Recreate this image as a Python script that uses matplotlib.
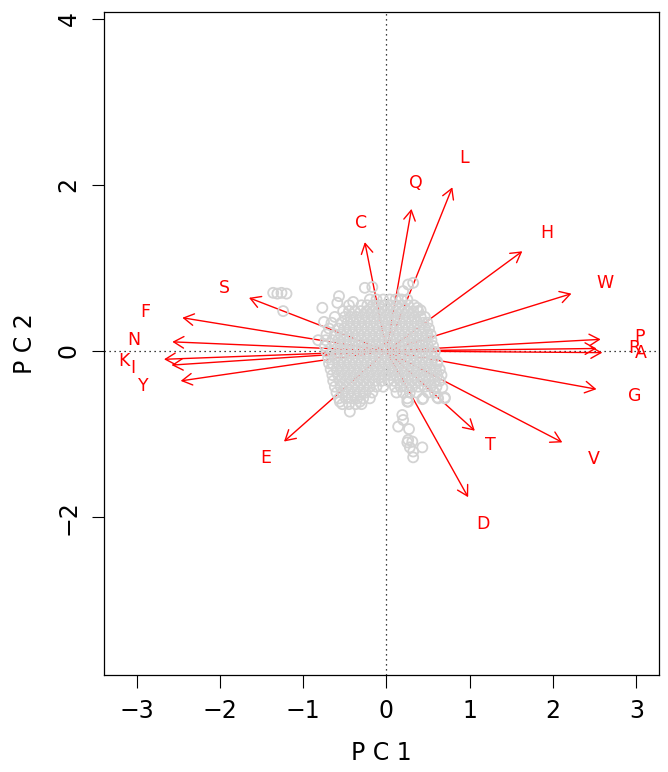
import matplotlib
matplotlib.use('Agg')
import matplotlib.pyplot as plt
from matplotlib.patches import FancyArrowPatch

# --- DATA ---
# amino-acid loadings (arrow tips, PC1 / PC2)
aa_labels = ['A', 'C', 'D', 'E', 'F', 'G', 'H', 'I', 'K', 'L',
             'N', 'P', 'Q', 'R', 'S', 'T', 'V', 'W', 'Y']
aa_pc1 = [2.59, -0.26, 0.98, -1.23, -2.45, 2.52, 1.63, -2.58, -2.67, 0.79,
          -2.57, 2.57, 0.30, 2.52, -1.65, 1.06, 2.11, 2.22, -2.47]
aa_pc2 = [-0.02, 1.31, -1.76, -1.09, 0.40, -0.46, 1.20, -0.17, -0.10, 1.97,
          0.11, 0.14, 1.71, 0.03, 0.64, -0.96, -1.10, 0.69, -0.36]

# sample scores, read row by row from the dense cloud (PC2 value, PC1 values)
cloud_rows = [
    (0.62, [-0.20, -0.12, -0.04, 0.04, 0.11, 0.18, 0.25]),
    (0.55, [-0.45, -0.30, -0.23, -0.16, -0.09, -0.02, 0.05, 0.12, 0.19, 0.26, 0.33]),
    (0.48, [-0.52, -0.45, -0.38, -0.31, -0.24, -0.17, -0.10, -0.03, 0.04, 0.11, 0.18, 0.25, 0.32, 0.38]),
    (0.41, [-0.62, -0.50, -0.43, -0.36, -0.29, -0.22, -0.15, -0.08, -0.01, 0.06, 0.13, 0.20, 0.27, 0.34, 0.41, 0.46]),
    (0.34, [-0.66, -0.54, -0.47, -0.40, -0.33, -0.26, -0.19, -0.12, -0.05, 0.02, 0.09, 0.16, 0.23, 0.30, 0.37, 0.44, 0.49]),
    (0.27, [-0.69, -0.58, -0.51, -0.44, -0.37, -0.30, -0.23, -0.16, -0.09, -0.02, 0.05, 0.12, 0.19, 0.26, 0.33, 0.40, 0.46, 0.51]),
    (0.20, [-0.72, -0.62, -0.55, -0.48, -0.41, -0.34, -0.27, -0.20, -0.13, -0.06, 0.01, 0.08, 0.15, 0.22, 0.29, 0.36, 0.43, 0.49, 0.53]),
    (0.13, [-0.73, -0.65, -0.58, -0.51, -0.44, -0.37, -0.30, -0.23, -0.16, -0.09, -0.02, 0.05, 0.12, 0.19, 0.26, 0.33, 0.40, 0.47, 0.54]),
    (0.06, [-0.74, -0.62, -0.55, -0.48, -0.41, -0.34, -0.27, -0.20, -0.13, -0.06, 0.01, 0.08, 0.15, 0.22, 0.29, 0.36, 0.43, 0.50, 0.56]),
    (-0.01, [-0.72, -0.65, -0.58, -0.51, -0.44, -0.37, -0.30, -0.23, -0.16, -0.09, -0.02, 0.05, 0.12, 0.19, 0.26, 0.33, 0.40, 0.47, 0.54, 0.58]),
    (-0.08, [-0.70, -0.62, -0.55, -0.48, -0.41, -0.34, -0.27, -0.20, -0.13, -0.06, 0.01, 0.08, 0.15, 0.22, 0.29, 0.36, 0.43, 0.50, 0.57]),
    (-0.15, [-0.69, -0.65, -0.58, -0.51, -0.44, -0.37, -0.30, -0.23, -0.16, -0.09, -0.02, 0.05, 0.12, 0.19, 0.26, 0.33, 0.40, 0.47, 0.54, 0.61]),
    (-0.22, [-0.67, -0.60, -0.53, -0.46, -0.39, -0.32, -0.25, -0.18, -0.11, -0.04, 0.03, 0.10, 0.17, 0.24, 0.31, 0.38, 0.45, 0.52, 0.59, 0.64]),
    (-0.29, [-0.65, -0.58, -0.51, -0.44, -0.37, -0.30, -0.23, -0.16, -0.09, -0.02, 0.05, 0.12, 0.19, 0.26, 0.33, 0.40, 0.47, 0.54, 0.61, 0.66]),
    (-0.36, [-0.64, -0.56, -0.49, -0.42, -0.35, -0.28, -0.21, -0.14, -0.06, 0.02, 0.09, 0.16, 0.23, 0.30, 0.37, 0.44, 0.51, 0.58, 0.64]),
    (-0.43, [-0.62, -0.55, -0.48, -0.41, -0.34, -0.27, -0.20, -0.12, -0.04, 0.10, 0.17, 0.24, 0.31, 0.38, 0.46, 0.53, 0.60]),
    (-0.50, [-0.60, -0.53, -0.46, -0.39, -0.32, -0.25, -0.17, 0.12, 0.20, 0.28, 0.36, 0.50, 0.58]),
    (-0.57, [-0.57, -0.49, -0.42, -0.35, -0.28, -0.20, 0.25, 0.44, 0.62, 0.70]),
    (-0.64, [-0.53, -0.45, -0.37, -0.30]),
]

# scattered scores outside the core
extra_pc1 = [-1.36, -1.31, -1.26, -1.20, -1.24, -0.77, -0.59, -0.57, -0.40, -0.75,
             -0.82, -0.26, -0.17, 0.20, 0.26, 0.32, 0.37, 0.41, 0.61, 0.67,
             -0.44, -0.56, -0.32, 0.25, 0.43, 0.61, 0.70,
             0.26, 0.19, 0.20, 0.14, 0.27, 0.26, 0.31, 0.25, 0.28, 0.32, 0.43, 0.32]
extra_pc2 = [0.70, 0.69, 0.70, 0.69, 0.48, 0.52, 0.58, 0.66, 0.59, 0.35,
             0.13, 0.76, 0.77, 0.72, 0.80, 0.82, 0.52, 0.49, -0.13, -0.44,
             -0.73, -0.61, -0.61, -0.61, -0.58, -0.56, -0.56,
             -0.61, -0.77, -0.83, -0.91, -0.94, -1.07, -1.09, -1.10, -1.16, -1.21, -1.16, -1.28]

pc1 = [x for y, xs in cloud_rows for x in xs] + extra_pc1
pc2 = [y for y, xs in cloud_rows for x in xs] + extra_pc2

plt.rcParams['font.family'] = ['DejaVu Sans']

fig = plt.figure(figsize=(6.68, 7.72), dpi=100)
ax = fig.add_axes([0.1557, 0.1256, 0.8308, 0.8589])

# loadings (drawn first, the score cloud sits on top near the origin)
for lab, x, y in zip(aa_labels, aa_pc1, aa_pc2):
    arr = FancyArrowPatch((0, 0), (x, y), arrowstyle='->,head_length=0.45,head_width=0.26',
                          mutation_scale=16, color='#FF0000', linewidth=1.0,
                          shrinkA=0, shrinkB=0, zorder=2)
    ax.add_patch(arr)
    ax.text(x * 1.18, y * 1.18, lab, color='#FF0000', fontsize=12.5,
            ha='center', va='center', zorder=4)

# scores
ax.scatter(pc1, pc2, s=52, facecolors='none', edgecolors='#D3D3D3', linewidths=1.3, zorder=3)

# reference lines
ax.axhline(0, color='black', linestyle=(0, (1, 3)), linewidth=0.9, zorder=1)
ax.axvline(0, color='black', linestyle=(0, (1, 3)), linewidth=0.9, zorder=1)

ax.set_xlim(-3.39, 3.27)
ax.set_ylim(-3.90, 4.08)
ax.set_xticks([-3, -2, -1, 0, 1, 2, 3])
ax.set_yticks([-2, 0, 2, 4])
ax.tick_params(direction='out', length=9, width=0.8, labelsize=17, pad=8)
for lbl in ax.get_yticklabels():
    lbl.set_rotation(90)
    lbl.set_va('center')

ax.set_xlabel('P C 1', fontsize=17, labelpad=13)
ax.set_ylabel('P C 2', fontsize=17, labelpad=14)
for sp in ax.spines.values():
    sp.set_linewidth(0.9)

plt.savefig('out.png', dpi=100)
